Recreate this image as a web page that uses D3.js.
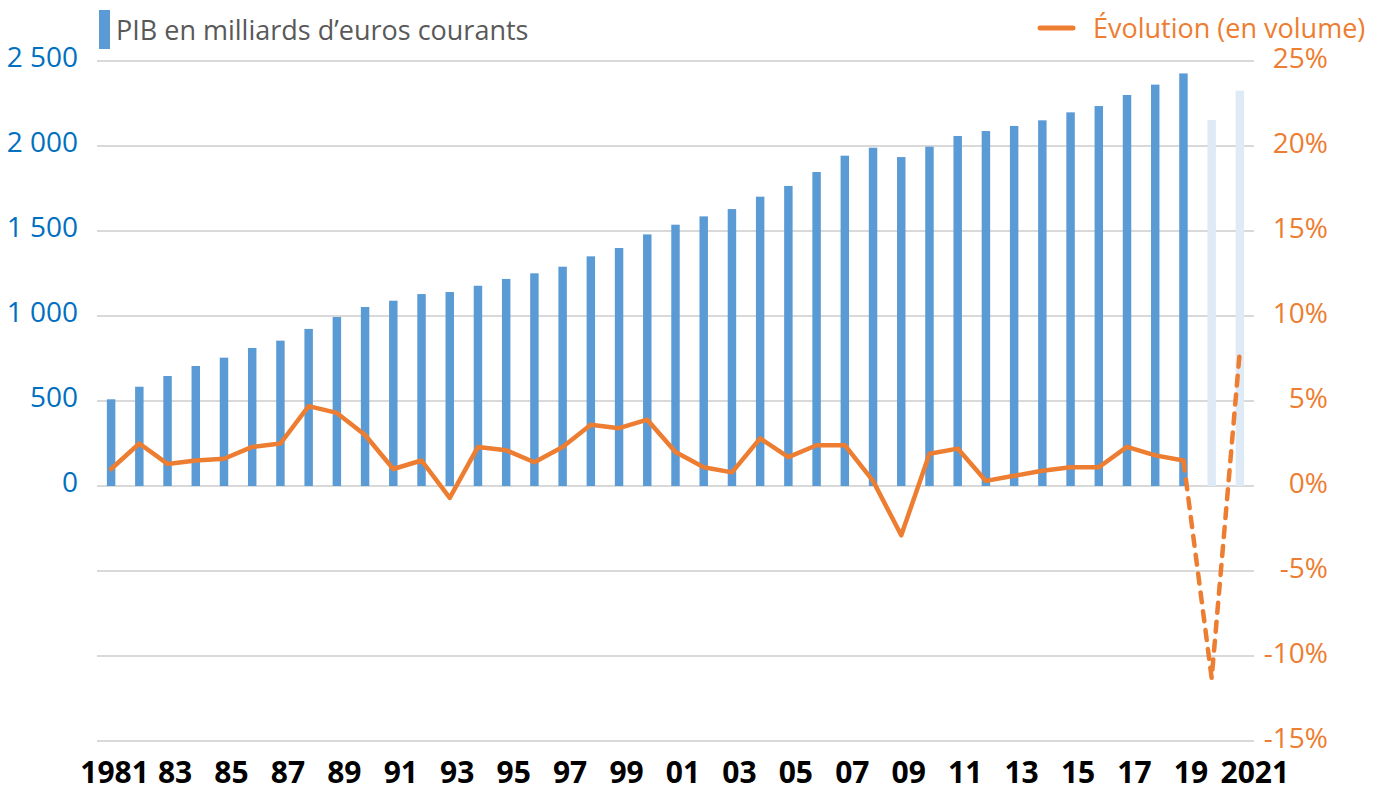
<!DOCTYPE html>
<html>
<head>
<meta charset="utf-8">
<script src="https://cdn.jsdelivr.net/npm/d3@7"></script>
<style>
  html, body { margin: 0; padding: 0; background: #ffffff; }
  svg { display: block; font-family: "Open Sans", sans-serif; }
</style>
</head>
<body>
<svg id="chart" width="1378" height="793"></svg>
<script>
// ---------- Data ----------
const years = [1981,1982,1983,1984,1985,1986,1987,1988,1989,1990,
               1991,1992,1993,1994,1995,1996,1997,1998,1999,2000,
               2001,2002,2003,2004,2005,2006,2007,2008,2009,2010,
               2011,2012,2013,2014,2015,2016,2017,2018,2019,2020,2021];

// PIB en milliards d'euros courants
const gdp = [510, 584, 647, 706, 755, 812, 855, 924, 994, 1053,
             1090, 1129, 1141, 1178, 1218, 1251, 1290, 1351, 1400, 1480,
             1537, 1586, 1629, 1702, 1765, 1847, 1943, 1990, 1935, 1996,
             2059, 2088, 2118, 2151, 2198, 2235, 2300, 2361, 2427, 2153, 2325];

// Évolution (en volume), %
const growth = [1.0, 2.5, 1.3, 1.5, 1.6, 2.3, 2.5, 4.7, 4.3, 3.0,
                1.0, 1.5, -0.7, 2.3, 2.1, 1.4, 2.3, 3.6, 3.4, 3.9,
                2.0, 1.1, 0.8, 2.8, 1.7, 2.4, 2.4, 0.3, -2.9, 1.9,
                2.2, 0.3, 0.6, 0.9, 1.1, 1.1, 2.3, 1.8, 1.5, -11.3, 8.0];

// Years whose values are estimates / forecasts (light bars, dashed line)
const forecastYears = [2020, 2021];

const tickYears  = [1981,1983,1985,1987,1989,1991,1993,1995,1997,1999,
                    2001,2003,2005,2007,2009,2011,2013,2015,2017,2019,2021];
const tickLabels = ["1981","83","85","87","89","91","93","95","97","99",
                    "01","03","05","07","09","11","13","15","17","19","2021"];

const leftTicks  = [0, 500, 1000, 1500, 2000, 2500];
const leftTickLabels = ["0","500","1 000","1 500","2 000","2 500"];
const rightTicks = [-15, -10, -5, 0, 5, 10, 15, 20, 25];

const legendBars = "PIB en milliards d\u2019euros courants";
const legendLine = "\u00C9volution (en volume)";

// ---------- Layout ----------
const svg = d3.select("#chart");
const plotLeft = 97, plotRight = 1254, plotTop = 61, plotBottom = 741;

const colBlue = "#5B9BD5", colLight = "#DEEBF7", colOrange = "#ED7D31";
const colAxisBlue = "#0070C0", colGrid = "#D9D9D9";

const x = d3.scaleBand().domain(years).range([plotLeft, plotRight])
  .paddingInner(0.7).paddingOuter(0.35);
const yLeft = d3.scaleLinear().domain([-1500, 2500]).range([plotBottom, plotTop]);
const yRight = d3.scaleLinear().domain([-15, 25]).range([plotBottom, plotTop]);
const cx = yr => x(yr) + x.bandwidth() / 2;

// Gridlines
svg.append("g").selectAll("line").data(rightTicks).join("line")
  .attr("x1", plotLeft).attr("x2", plotRight)
  .attr("y1", d => yRight(d)).attr("y2", d => yRight(d))
  .attr("stroke", colGrid).attr("stroke-width", 2);

// Bars
const barData = years.map((yr, i) => ({ yr, v: gdp[i] }));
svg.append("g").selectAll("rect").data(barData).join("rect")
  .attr("x", d => x(d.yr)).attr("width", x.bandwidth())
  .attr("y", d => yLeft(d.v)).attr("height", d => yLeft(0) - yLeft(d.v))
  .attr("fill", d => forecastYears.includes(d.yr) ? colLight : colBlue);

// Line
const pts = years.map((yr, i) => ({ yr, v: growth[i] }));
const line = d3.line().x(d => cx(d.yr)).y(d => yRight(d.v));
const solidPts = pts.filter(d => !forecastYears.includes(d.yr));
const dashPts = pts.filter(d => d.yr >= solidPts[solidPts.length - 1].yr);
svg.append("path").datum(solidPts).attr("d", line)
  .attr("fill", "none").attr("stroke", colOrange).attr("stroke-width", 4.5)
  .attr("stroke-linejoin", "round").attr("stroke-linecap", "round");
svg.append("path").datum(dashPts).attr("d", line)
  .attr("fill", "none").attr("stroke", colOrange).attr("stroke-width", 4.5)
  .attr("stroke-dasharray", "10,9").attr("stroke-linecap", "round")
  .attr("stroke-linejoin", "round");

// Left axis labels
svg.append("g").selectAll("text").data(leftTicks).join("text")
  .attr("x", 78).attr("y", d => yLeft(d) + 6)
  .attr("text-anchor", "end").attr("font-size", 28).attr("fill", colAxisBlue)
  .text((d, i) => leftTickLabels[i]);

// Right axis labels
svg.append("g").selectAll("text").data(rightTicks).join("text")
  .attr("x", 1328).attr("y", d => yRight(d) + 7)
  .attr("text-anchor", "end").attr("font-size", 28).attr("fill", colOrange)
  .text(d => d + "%");

// Bottom category labels
const nT = tickYears.length;
svg.append("g").selectAll("text").data(tickYears).join("text")
  .attr("x", (d, i) => cx(d) + (i === 0 ? 3.5 : i === nT - 1 ? 15 : 7.5))
  .attr("y", 783)
  .attr("text-anchor", "middle").attr("font-size", 30).attr("font-weight", "bold")
  .attr("fill", "#000000")
  .text((d, i) => tickLabels[i]);

// Legend
svg.append("rect").attr("x", 99).attr("y", 10).attr("width", 11).attr("height", 39)
  .attr("fill", colBlue);
svg.append("text").attr("x", 116).attr("y", 40).attr("font-size", 27)
  .attr("fill", "#595959").text(legendBars);
svg.append("line").attr("x1", 1040).attr("x2", 1073).attr("y1", 28).attr("y2", 28)
  .attr("stroke", colOrange).attr("stroke-width", 5).attr("stroke-linecap", "round");
svg.append("text").attr("x", 1093).attr("y", 38).attr("font-size", 27)
  .attr("fill", colOrange).text(legendLine);
</script>
</body>
</html>
